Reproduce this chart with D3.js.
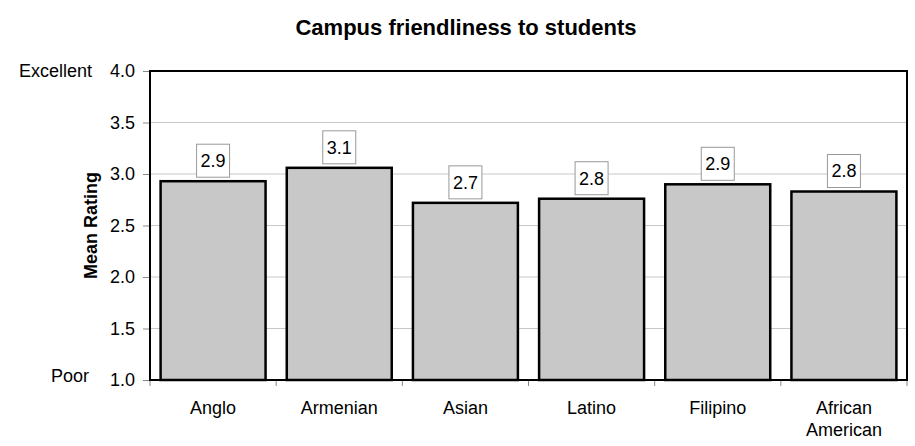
<!DOCTYPE html>
<html lang="en">
<head>
    <meta charset="UTF-8">
    <style>
        body { margin: 0; background: #fff; }
        text { font-family: "Liberation Sans", Arial, sans-serif; fill: #000; }
    </style>
</head>
<body>
    <svg width="915" height="446"></svg>
    <script src="https://d3js.org/d3.v7.min.js"></script>
    <script>
        // chart data
        let categories = ["Anglo", "Armenian", "Asian", "Latino", "Filipino", "African American"]
        let means = [2.93, 3.06, 2.72, 2.76, 2.90, 2.83]
        let valueLabels = ["2.9", "3.1", "2.7", "2.8", "2.9", "2.8"]
        let yTicks = [1.0, 1.5, 2.0, 2.5, 3.0, 3.5, 4.0]
        let title = "Campus friendliness to students"

        // plot area (note: "top" is taken by window.top)
        let plotLeft = 150, plotRight = 907, plotTop = 71, plotBottom = 380

        let svg = d3.select("svg")

        let x = d3.scaleBand()
            .domain(categories)
            .range([plotLeft, plotRight])
            .paddingInner(0.168)
            .paddingOuter(0.084)

        let y = d3.scaleLinear()
            .domain([1, 4])
            .range([plotBottom, plotTop])

        // gridlines
        svg.append("g")
            .selectAll("line")
            .data(yTicks.filter(d => d > 1 && d < 4))
            .enter()
            .append("line")
            .attr("x1", plotLeft).attr("x2", plotRight)
            .attr("y1", d => y(d)).attr("y2", d => y(d))
            .attr("stroke", "#c8c8c8")
            .attr("stroke-width", 1)

        // y axis
        let yAxis = svg.append("g")
            .attr("transform", `translate(${plotLeft},0)`)
            .call(d3.axisLeft(y).tickValues(yTicks).tickFormat(d3.format(".1f")).tickSize(7).tickPadding(8))
        yAxis.select(".domain").remove()
        yAxis.selectAll(".tick line").attr("stroke", "#888")
        yAxis.selectAll(".tick text")
            .attr("font-size", 18)
            .attr("font-family", "Liberation Sans, Arial, sans-serif")
            .attr("fill", "#000")

        // category boundary ticks
        let step = x.step()
        svg.append("g")
            .selectAll("line")
            .data(d3.range(categories.length + 1))
            .enter()
            .append("line")
            .attr("x1", i => plotLeft + i * step).attr("x2", i => plotLeft + i * step)
            .attr("y1", plotBottom).attr("y2", plotBottom + 6)
            .attr("stroke", "#888")

        // bars
        svg.append("g")
            .selectAll("rect")
            .data(categories)
            .enter()
            .append("rect")
            .attr("x", d => x(d))
            .attr("width", x.bandwidth())
            .attr("y", (d, i) => y(means[i]))
            .attr("height", (d, i) => y(1) - y(means[i]))
            .attr("fill", "#c8c8c8")
            .attr("stroke", "#000")
            .attr("stroke-width", 2.5)

        // value label boxes
        let boxSize = 33
        let labels = svg.append("g")
            .selectAll("g")
            .data(categories)
            .enter()
            .append("g")
            .attr("transform", (d, i) => `translate(${x(d) + x.bandwidth() / 2},${y(means[i]) - 4 - boxSize / 2})`)
        labels.append("rect")
            .attr("x", -boxSize / 2).attr("y", -boxSize / 2)
            .attr("width", boxSize).attr("height", boxSize)
            .attr("fill", "#fff")
            .attr("stroke", "#999")
            .attr("stroke-width", 1)
        labels.append("text")
            .attr("text-anchor", "middle")
            .attr("dy", "0.35em")
            .attr("font-size", 18)
            .text((d, i) => valueLabels[i])

        // plot frame
        svg.append("rect")
            .attr("x", plotLeft).attr("y", plotTop)
            .attr("width", plotRight - plotLeft).attr("height", plotBottom - plotTop)
            .attr("fill", "none")
            .attr("stroke", "#000")
            .attr("stroke-width", 2)

        // x labels (split on space for two-word names)
        svg.append("g")
            .selectAll("text")
            .data(categories)
            .enter()
            .append("text")
            .attr("text-anchor", "middle")
            .attr("font-size", 18)
            .attr("y", 414)
            .each(function (d) {
                let words = d.split(" ")
                let t = d3.select(this)
                words.forEach((w, j) => {
                    t.append("tspan")
                        .attr("x", x(d) + x.bandwidth() / 2)
                        .attr("dy", j == 0 ? 0 : 22)
                        .text(w)
                })
            })

        // title
        svg.append("text")
            .attr("x", 466).attr("y", 35)
            .attr("text-anchor", "middle")
            .attr("font-size", 22)
            .attr("font-weight", "bold")
            .text(title)

        // y axis title
        svg.append("text")
            .attr("transform", `translate(97,${(plotTop + plotBottom) / 2}) rotate(-90)`)
            .attr("text-anchor", "middle")
            .attr("font-size", 18)
            .attr("font-weight", "bold")
            .text("Mean Rating")

        // scale end labels
        svg.append("text")
            .attr("x", 92).attr("y", y(4) + 6)
            .attr("text-anchor", "end")
            .attr("font-size", 18)
            .text("Excellent")
        svg.append("text")
            .attr("x", 89).attr("y", y(1) + 2)
            .attr("text-anchor", "end")
            .attr("font-size", 18)
            .text("Poor")
    </script>
</body>
</html>
